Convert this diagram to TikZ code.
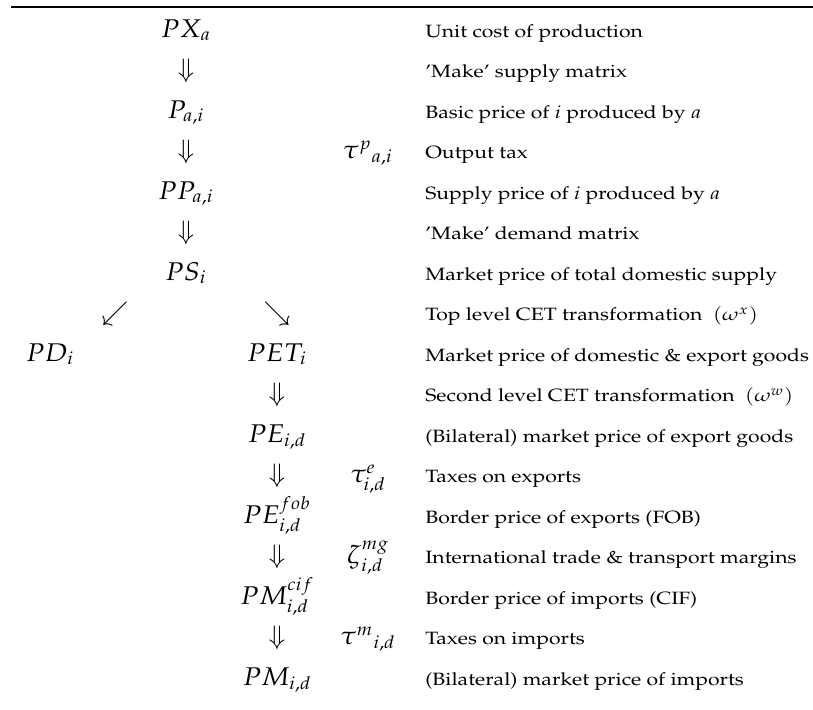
\documentclass[tikz,border=0pt]{standalone}
\usepackage[T1]{fontenc}
\usepackage{mathpazo}
\usepackage{graphicx}
% horizontal stretch for text and for math symbols
\newcommand{\hs}[1]{\scalebox{1.19}[1]{#1}}
\newcommand{\ms}[1]{\scalebox{1.1}[1]{#1}}
\tikzset{
  cell/.style={anchor=base, inner sep=0pt, font=\Large},
  desc/.style={anchor=base west, inner sep=0pt, font=\normalsize},
}
\begin{document}
\begin{tikzpicture}[x=0.562pt, y=-0.562pt]
\useasboundingbox (0,0) rectangle (813,710);
% top rule
\draw[line width=0.95pt] (11,7) -- (813,7);

% column positions
\def\cA{50}\def\cB{115}\def\cC{186}\def\cD{277}\def\cE{368}\def\cT{425}

% description column
\foreach \r/\t in {
  0/{Unit cost of production},
  1/{'Make' supply matrix},
  2/{Basic price of $i$ produced by $a$},
  3/{Output tax},
  4/{Supply price of $i$ produced by $a$},
  5/{'Make' demand matrix},
  6/{Market price of total domestic supply},
  7/{Top level CET transformation\ \ $(\omega^{x})$},
  8/{Market price of domestic \& export goods},
  9/{Second level CET transformation\ \ $(\omega^{w})$},
  10/{(Bilateral) market price of export goods},
  11/{Taxes on exports},
  12/{Border price of exports (FOB)},
  13/{International trade \& transport margins},
  14/{Border price of imports (CIF)},
  15/{Taxes on imports},
  16/{(Bilateral) market price of imports}}
  \node[desc] (t\r) at (\cT,{37+40.5*\r}) {\hs{\t}};

% price chain
\node[cell] (px)   at (\cC,{37+40.5*0})  {\ms{$PX_a$}};
\node[cell] (d1)   at (\cC,{37+40.5*1})  {$\Downarrow$};
\node[cell] (p)    at (\cC,{37+40.5*2})  {\ms{$P_{a,i}$}};
\node[cell] (d2)   at (\cC,{37+40.5*3})  {$\Downarrow$};
\node[cell] (taup) at (\cE,{37+40.5*3})  {\ms{${\tau^{p}}_{a,i}$}};
\node[cell] (pp)   at (\cC,{37+40.5*4})  {\ms{$PP_{a,i}$}};
\node[cell] (d3)   at (\cC,{37+40.5*5})  {$\Downarrow$};
\node[cell] (ps)   at (\cC,{37+40.5*6})  {\ms{$PS_i$}};
\node[cell] (sw)   at (\cB,{37+40.5*7})  {$\swarrow$};
\node[cell] (se)   at (\cD,{37+40.5*7})  {$\searrow$};
\node[cell] (pd)   at (\cA,{37+40.5*8})  {\ms{$PD_i$}};
\node[cell] (pet)  at (\cD,{37+40.5*8})  {\ms{$PET_i$}};
\node[cell] (d4)   at (\cD,{37+40.5*9})  {$\Downarrow$};
\node[cell] (pe)   at (\cD,{37+40.5*10}) {\ms{$PE_{i,d}$}};
\node[cell] (d5)   at (\cD,{37+40.5*11}) {$\Downarrow$};
\node[cell] (taue) at (\cE,{37+40.5*11}) {\ms{$\tau^{e}_{i,d}$}};
\node[cell] (pef)  at (\cD,{37+40.5*12}) {\ms{$PE^{fob}_{i,d}$}};
\node[cell] (d6)   at (\cD,{37+40.5*13}) {$\Downarrow$};
\node[cell] (zeta) at (\cE,{37+40.5*13}) {\ms{$\zeta^{mg}_{i,d}$}};
\node[cell] (pmc)  at (\cD,{37+40.5*14}) {\ms{$PM^{cif}_{i,d}$}};
\node[cell] (d7)   at (\cD,{37+40.5*15}) {$\Downarrow$};
\node[cell] (taum) at (\cE,{37+40.5*15}) {\ms{${\tau^{m}}_{i,d}$}};
\node[cell] (pm)   at (\cD,{37+40.5*16}) {\ms{$PM_{i,d}$}};
\end{tikzpicture}
\end{document}
